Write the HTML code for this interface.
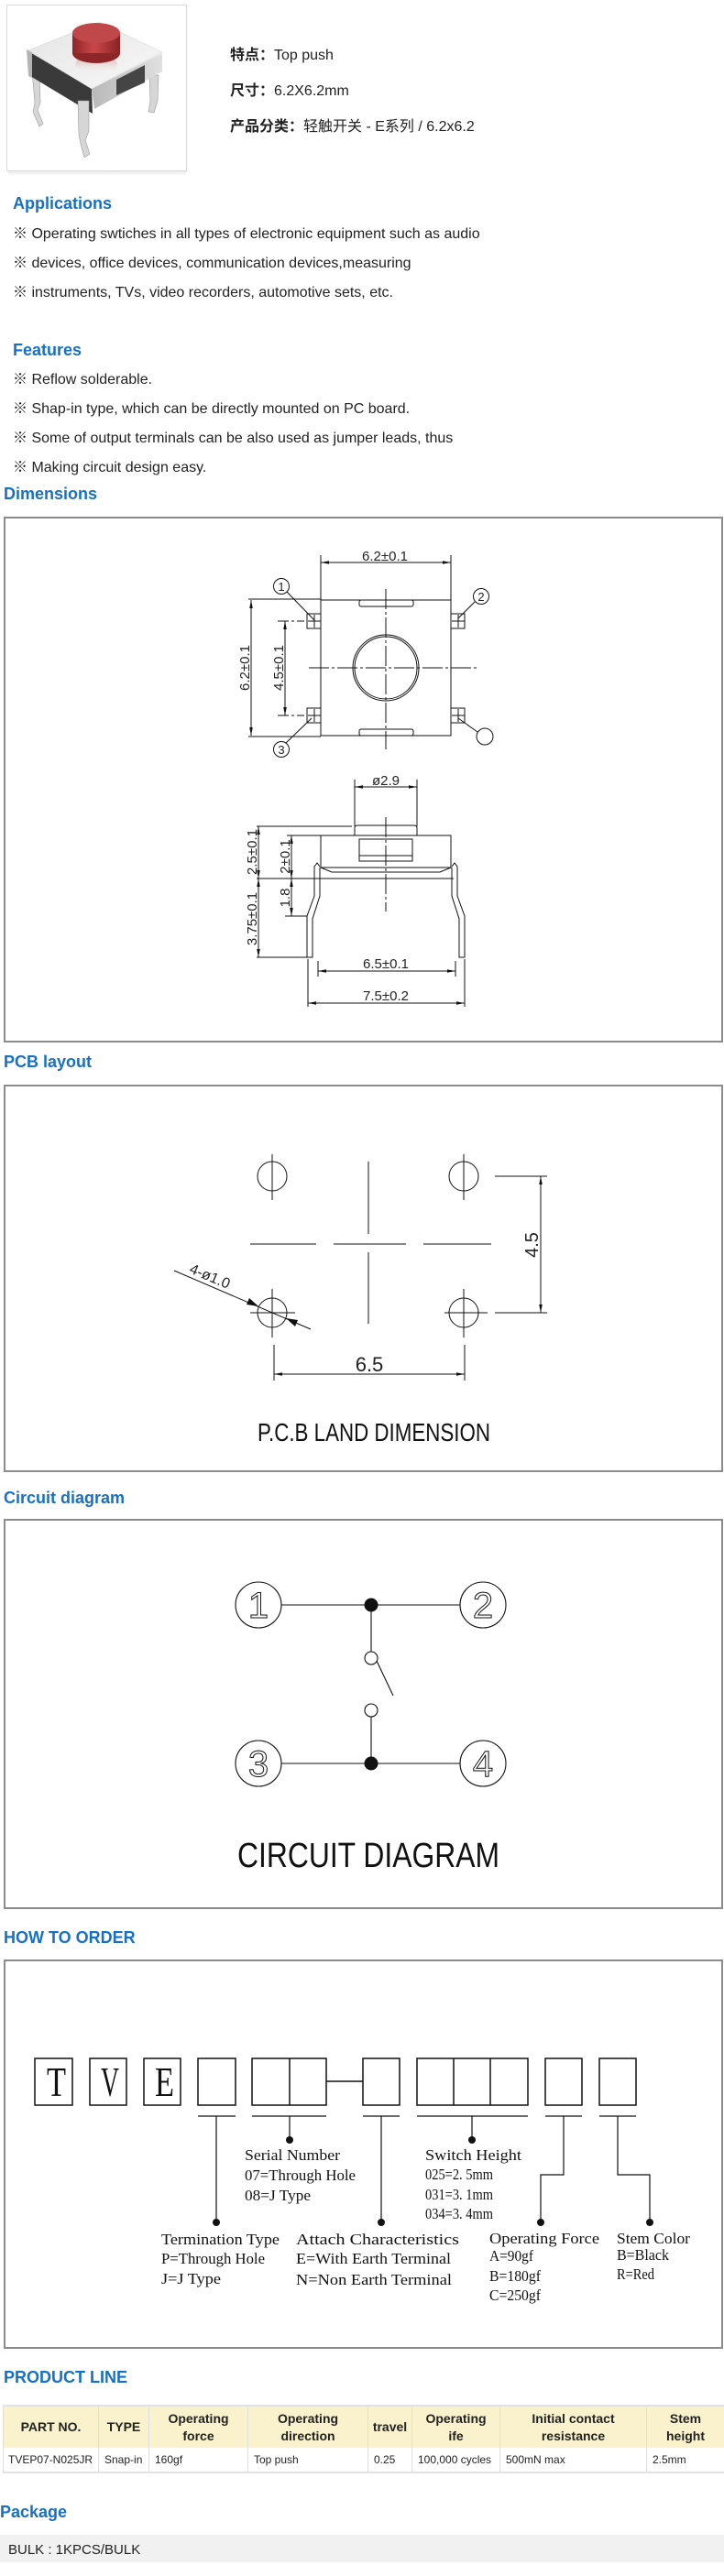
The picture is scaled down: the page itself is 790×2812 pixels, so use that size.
<!DOCTYPE html>
<html><head><meta charset="utf-8">
<style>
html,body{margin:0;padding:0;background:#fff;}
#wrap{position:relative;width:790px;height:2812px;overflow:hidden;font-family:"Liberation Sans","Noto Sans CJK SC",sans-serif;color:#222;}
.h{position:absolute;white-space:nowrap;font-weight:bold;font-size:18px;line-height:22px;color:#1770c5;}
.p{position:absolute;white-space:nowrap;font-size:16px;line-height:20px;left:14px;color:#222;}
.top{position:absolute;white-space:nowrap;font-size:16px;line-height:20px;left:251px;color:#222;}
.top b{font-weight:bold;}
svg.bg{position:absolute;left:0;top:0;}
.cad{font-family:"Liberation Sans",sans-serif;font-size:15px;fill:#222;stroke:none;}
.ord{font-family:"Liberation Serif",serif;font-size:17px;fill:#111;stroke:none;}
table{border-collapse:collapse;table-layout:fixed;width:787px;font-family:"Liberation Sans",sans-serif;}
th{background:#faf2cc;font-size:14px;line-height:19px;font-weight:bold;color:#222;text-align:center;border-left:1px solid #dedede;border-right:1px solid #dedede;height:45px;padding:0;}
td{font-size:12px;color:#222;padding:0 0 0 6px;border-left:1px solid #dedede;border-right:1px solid #dedede;height:26px;white-space:nowrap;}
tr.hd{border-top:2px solid #e2e2e2;}
tr.dt{border-bottom:2px solid #e2e2e2;}
</style></head>
<body><div id="wrap">

<svg class="bg" width="790" height="2812" viewBox="0 0 790 2812" xmlns="http://www.w3.org/2000/svg">
<defs>
<marker id="a" viewBox="0 0 10 4" refX="10" refY="2" markerWidth="9" markerHeight="3.6" markerUnits="userSpaceOnUse" orient="auto-start-reverse"><path d="M0,0 L10,2 L0,4z" fill="#111"/></marker>
<linearGradient id="cap" x1="0" x2="1" y1="0" y2="0"><stop offset="0" stop-color="#8e2426"/><stop offset="0.45" stop-color="#c9484a"/><stop offset="1" stop-color="#8a2224"/></linearGradient>
<linearGradient id="refl" x1="0" x2="0" y1="0" y2="1"><stop offset="0" stop-color="#d99a9a"/><stop offset="1" stop-color="#f2f2f2" stop-opacity="0"/></linearGradient>
<linearGradient id="topf" x1="0" x2="1" y1="0" y2="1"><stop offset="0" stop-color="#e4e4e4"/><stop offset="1" stop-color="#f8f8f8"/></linearGradient>
<linearGradient id="rf" x1="0" x2="1" y1="0" y2="0"><stop offset="0" stop-color="#b9b9b9"/><stop offset="1" stop-color="#e0e0e0"/></linearGradient>
<linearGradient id="sh" x1="0" x2="0" y1="0" y2="1"><stop offset="0" stop-color="#e6e6e6"/><stop offset="1" stop-color="#fff"/></linearGradient>
</defs>

<!-- product photo -->
<rect x="9" y="186" width="194" height="6" fill="url(#sh)"/>
<rect x="7.5" y="5.5" width="196" height="181" fill="#fff" stroke="#dadada"/>
<polygon points="35,78 43,78 44,112 41,120 47,135 43,138 36,122 38,112" fill="#d6d6d6" stroke="#9a9a9a" stroke-width="0.6"/>
<polygon points="163,83 173,82 172,110 168,123 162,122 164,110" fill="#d6d6d6" stroke="#9a9a9a" stroke-width="0.6"/>
<polygon points="31,56 100,97 101,124 33,83" fill="#3a3a3a"/>
<polygon points="29,54 35,57 35,85 31,83" fill="#b4b4b4"/>
<polygon points="100,97 177,58 177,78 103,119" fill="url(#rf)"/>
<polygon points="127,87 158,71 158,90 127,104" fill="#454545"/>
<polygon points="31,55 108,24 177,57 100,97" fill="url(#topf)" stroke="#cfcfcf" stroke-width="0.5"/>
<polygon points="85,110 97,110 97,143 93,153 98,168 92,172 88,157 86,147" fill="#d6d6d6" stroke="#9a9a9a" stroke-width="0.6"/>
<ellipse cx="105" cy="70" rx="23" ry="10" fill="url(#refl)"/>
<ellipse cx="105" cy="58" rx="26" ry="11" fill="#8e2628"/>
<rect x="79" y="36" width="52" height="22" fill="url(#cap)"/>
<ellipse cx="105" cy="36" rx="26" ry="11" fill="#c0474a"/>

<!-- section boxes -->
<g fill="none" stroke="#8c8c8c" stroke-width="2">
<rect x="5" y="565" width="783" height="572"/>
<rect x="5" y="1185" width="783" height="421"/>
<rect x="5" y="1659" width="783" height="424"/>
<rect x="5" y="2140" width="783" height="423"/>
</g>

<!-- DIMENSIONS: top view -->
<g stroke="#111" stroke-width="1" fill="none">
<line x1="350" y1="614" x2="492" y2="614" marker-start="url(#a)" marker-end="url(#a)"/>
<line x1="350" y1="606" x2="350" y2="655"/>
<line x1="492" y1="606" x2="492" y2="655"/>
<rect x="350" y="655" width="142" height="148"/>
<line x1="271" y1="654" x2="350" y2="654"/>
<line x1="271" y1="804" x2="350" y2="804"/>
<rect x="392" y="655" width="59" height="7" rx="2"/>
<rect x="392" y="796" width="59" height="7" rx="2"/>
<circle cx="421" cy="729" r="36"/>
<circle cx="421" cy="729" r="34"/>
<line x1="421" y1="643" x2="421" y2="818" stroke-dasharray="22 3 3 3"/>
<line x1="337" y1="729" x2="523" y2="729" stroke-dasharray="22 3 3 3"/>
<rect x="335" y="670" width="15" height="16"/>
<rect x="335" y="773" width="15" height="16"/>
<rect x="492" y="670" width="15" height="16"/>
<rect x="492" y="773" width="15" height="16"/>
<line x1="336" y1="678" x2="350" y2="678"/><line x1="343" y1="671" x2="343" y2="685"/>
<line x1="336" y1="781" x2="350" y2="781"/><line x1="343" y1="774" x2="343" y2="788"/>
<line x1="493" y1="678" x2="507" y2="678"/><line x1="500" y1="671" x2="500" y2="685"/>
<line x1="493" y1="781" x2="507" y2="781"/><line x1="500" y1="774" x2="500" y2="788"/>
<line x1="303" y1="678" x2="332" y2="678" stroke-dasharray="12 3 3 3"/>
<line x1="303" y1="781" x2="332" y2="781" stroke-dasharray="12 3 3 3"/>
<line x1="311" y1="678" x2="311" y2="781" marker-start="url(#a)" marker-end="url(#a)"/>
<line x1="274" y1="655" x2="274" y2="803" marker-start="url(#a)" marker-end="url(#a)"/>
<circle cx="307" cy="640" r="8.5"/><line x1="313" y1="646" x2="343" y2="677"/>
<circle cx="525" cy="651" r="8.5"/><line x1="518" y1="657" x2="500" y2="675"/>
<circle cx="307" cy="818" r="8.5"/><line x1="312" y1="811" x2="340" y2="784"/>
<circle cx="529" cy="804" r="9"/><line x1="521" y1="799" x2="500" y2="784"/>
</g>
<text class="cad" x="420" y="612" text-anchor="middle">6.2±0.1</text>
<text class="cad" transform="translate(272,729) rotate(-90)" text-anchor="middle">6.2±0.1</text>
<text class="cad" transform="translate(309,729) rotate(-90)" text-anchor="middle">4.5±0.1</text>
<text class="cad" x="307" y="645" text-anchor="middle" style="font-size:13px">1</text>
<text class="cad" x="525" y="656" text-anchor="middle" style="font-size:13px">2</text>
<text class="cad" x="307" y="823" text-anchor="middle" style="font-size:13px">3</text>

<!-- DIMENSIONS: side view -->
<g stroke="#111" stroke-width="1" fill="none">
<line x1="387" y1="859" x2="455" y2="859" marker-start="url(#a)" marker-end="url(#a)"/>
<line x1="387" y1="851" x2="387" y2="902"/>
<line x1="455" y1="851" x2="455" y2="902"/>
<path d="M387,912 L387,904 Q387,901 390,901 L452,901 Q455,901 455,904 L455,912"/>
<rect x="350" y="912" width="142" height="35"/>
<polyline points="350,947 362,952 480,952 492,947"/>
<rect x="392" y="916" width="58" height="24"/>
<line x1="392" y1="934" x2="450" y2="934"/>
<polyline points="349,947 349,978 341,1003 341,1045 335,1045 335,1000 343,978 343,946 346,942 349,946"/>
<polyline points="493,947 493,978 501,1003 501,1045 507,1045 507,1000 499,978 499,946 496,942 493,946"/>
<line x1="280" y1="902" x2="384" y2="902"/>
<line x1="280" y1="959" x2="495" y2="959"/>
<line x1="280" y1="1045" x2="335" y2="1045"/>
<line x1="313" y1="912" x2="350" y2="912"/>
<line x1="311" y1="1000" x2="335" y2="1000"/>
<line x1="282" y1="902" x2="282" y2="959" marker-start="url(#a)" marker-end="url(#a)"/>
<line x1="282" y1="959" x2="282" y2="1045" marker-start="url(#a)" marker-end="url(#a)"/>
<line x1="318" y1="912" x2="318" y2="959" marker-start="url(#a)" marker-end="url(#a)"/>
<line x1="318" y1="959" x2="318" y2="1000" marker-start="url(#a)" marker-end="url(#a)"/>
<line x1="347" y1="1049" x2="347" y2="1066"/>
<line x1="497" y1="1049" x2="497" y2="1066"/>
<line x1="347" y1="1060" x2="497" y2="1060" marker-start="url(#a)" marker-end="url(#a)"/>
<line x1="336" y1="1047" x2="336" y2="1099"/>
<line x1="507" y1="1047" x2="507" y2="1099"/>
<line x1="336" y1="1095" x2="507" y2="1095" marker-start="url(#a)" marker-end="url(#a)"/>
<line x1="421" y1="892" x2="421" y2="995" stroke-dasharray="22 3 3 3"/>
</g>
<text class="cad" x="421" y="857" text-anchor="middle">ø2.9</text>
<text class="cad" transform="translate(280,930) rotate(-90)" text-anchor="middle">2.5±0.1</text>
<text class="cad" transform="translate(280,1003) rotate(-90)" text-anchor="middle">3.75±0.1</text>
<text class="cad" transform="translate(316,935) rotate(-90)" text-anchor="middle">2±0.1</text>
<text class="cad" transform="translate(316,980) rotate(-90)" text-anchor="middle">1.8</text>
<text class="cad" x="421" y="1057" text-anchor="middle">6.5±0.1</text>
<text class="cad" x="421" y="1092" text-anchor="middle">7.5±0.2</text>

<!-- PCB layout -->
<g stroke="#111" stroke-width="1" fill="none">
<circle cx="297" cy="1284" r="16"/><circle cx="506" cy="1284" r="16"/>
<circle cx="297" cy="1433" r="16"/><circle cx="506" cy="1433" r="16"/>
<line x1="297" y1="1260" x2="297" y2="1310"/><line x1="506" y1="1260" x2="506" y2="1310"/>
<line x1="297" y1="1407" x2="297" y2="1460"/><line x1="506" y1="1407" x2="506" y2="1460"/>
<line x1="273" y1="1433" x2="322" y2="1433"/><line x1="485" y1="1433" x2="532" y2="1433"/>
<line x1="402" y1="1268" x2="402" y2="1347"/><line x1="402" y1="1367" x2="402" y2="1445"/>
<line x1="273" y1="1358" x2="345" y2="1358"/><line x1="364" y1="1358" x2="443" y2="1358"/><line x1="462" y1="1358" x2="536" y2="1358"/>
<line x1="540" y1="1284" x2="597" y2="1284"/><line x1="540" y1="1433" x2="597" y2="1433"/>
<line x1="590" y1="1284" x2="590" y2="1433" marker-start="url(#a)" marker-end="url(#a)"/>
<line x1="299" y1="1468" x2="299" y2="1507"/><line x1="507" y1="1468" x2="507" y2="1507"/>
<line x1="299" y1="1500" x2="507" y2="1500" marker-start="url(#a)" marker-end="url(#a)"/>
<line x1="190" y1="1387" x2="339" y2="1451"/>
</g>
<polygon points="282,1426 269,1424 272,1417" fill="#111"/>
<polygon points="312,1439 325,1441 322,1448" fill="#111"/>
<text class="cad" transform="translate(587,1359) rotate(-90)" text-anchor="middle" style="font-size:20px">4.5</text>
<text class="cad" x="403" y="1497" text-anchor="middle" style="font-size:22px">6.5</text>
<text class="cad" transform="translate(227,1398) rotate(23)" text-anchor="middle" style="font-size:16px">4-ø1.0</text>
<text class="cad" x="281" y="1573" textLength="254" lengthAdjust="spacingAndGlyphs" style="font-size:28px;fill:#111">P.C.B LAND DIMENSION</text>

<!-- Circuit diagram -->
<g stroke="#111" stroke-width="1.1" fill="none">
<circle cx="282" cy="1752" r="25"/><circle cx="527" cy="1752" r="25"/>
<circle cx="282" cy="1925" r="25"/><circle cx="527" cy="1925" r="25"/>
<line x1="307" y1="1752" x2="502" y2="1752"/>
<line x1="307" y1="1925" x2="502" y2="1925"/>
<line x1="405" y1="1752" x2="405" y2="1803"/>
<circle cx="405" cy="1810" r="7"/>
<line x1="411" y1="1813" x2="429" y2="1851"/>
<circle cx="405" cy="1867" r="7"/>
<line x1="405" y1="1874" x2="405" y2="1925"/>
</g>
<circle cx="405" cy="1752" r="7.5" fill="#111"/>
<circle cx="405" cy="1925" r="7.5" fill="#111"/>
<g style="font-family:'Liberation Sans',sans-serif;font-size:40px" fill="none" stroke="#111" stroke-width="1" text-anchor="middle">
<text x="282" y="1766">1</text><text x="527" y="1766">2</text>
<text x="282" y="1939">3</text><text x="527" y="1939">4</text>
</g>
<text class="cad" x="259" y="2038" textLength="286" lengthAdjust="spacingAndGlyphs" style="font-size:38px;fill:#111">CIRCUIT DIAGRAM</text>

<!-- How to order -->
<g stroke="#111" stroke-width="1.5" fill="none">
<rect x="38" y="2247" width="41" height="51"/>
<rect x="98" y="2247" width="40" height="51"/>
<rect x="157" y="2247" width="40" height="51"/>
<rect x="216" y="2247" width="41" height="51"/>
<rect x="275" y="2247" width="81" height="51"/><line x1="316" y1="2247" x2="316" y2="2298"/>
<line x1="356" y1="2272" x2="396" y2="2272"/>
<rect x="396" y="2247" width="40" height="51"/>
<rect x="455" y="2247" width="121" height="51"/><line x1="495" y1="2247" x2="495" y2="2298"/><line x1="535" y1="2247" x2="535" y2="2298"/>
<rect x="595" y="2247" width="40" height="51"/>
<rect x="654" y="2247" width="40" height="51"/>
</g>
<g stroke="#111" stroke-width="1.2" fill="none">
<line x1="216" y1="2310" x2="257" y2="2310"/>
<line x1="275" y1="2310" x2="356" y2="2310"/>
<line x1="396" y1="2310" x2="436" y2="2310"/>
<line x1="455" y1="2310" x2="576" y2="2310"/>
<line x1="595" y1="2310" x2="635" y2="2310"/>
<line x1="654" y1="2310" x2="694" y2="2310"/>
<line x1="236" y1="2310" x2="236" y2="2426"/>
<line x1="316" y1="2310" x2="316" y2="2336"/>
<line x1="416" y1="2310" x2="416" y2="2426"/>
<line x1="515" y1="2310" x2="515" y2="2336"/>
<polyline points="615,2310 615,2374 590,2374 590,2426"/>
<polyline points="674,2310 674,2374 709,2374 709,2426"/>
</g>
<g fill="#111">
<circle cx="236" cy="2426" r="4"/><circle cx="316" cy="2336" r="4"/>
<circle cx="416" cy="2426" r="4"/><circle cx="515" cy="2336" r="4"/>
<circle cx="590" cy="2426" r="4"/><circle cx="709" cy="2426" r="4"/>
</g>
<g style="font-family:'Liberation Serif',serif;font-size:46px" fill="#111">
<text x="51" y="2288" textLength="21" lengthAdjust="spacingAndGlyphs">T</text>
<text x="110" y="2288" textLength="20" lengthAdjust="spacingAndGlyphs">V</text>
<text x="169" y="2288" textLength="21" lengthAdjust="spacingAndGlyphs">E</text>
</g>
<text class="ord" x="267" y="2358" textLength="104" lengthAdjust="spacingAndGlyphs">Serial Number</text>
<text class="ord" x="267" y="2380" textLength="121" lengthAdjust="spacingAndGlyphs">07=Through Hole</text>
<text class="ord" x="267" y="2402" textLength="72" lengthAdjust="spacingAndGlyphs">08=J Type</text>
<text class="ord" x="464" y="2358" textLength="105" lengthAdjust="spacingAndGlyphs">Switch Height</text>
<text class="ord" x="464" y="2379" textLength="74" lengthAdjust="spacingAndGlyphs">025=2. 5mm</text>
<text class="ord" x="464" y="2401" textLength="74" lengthAdjust="spacingAndGlyphs">031=3. 1mm</text>
<text class="ord" x="464" y="2422" textLength="74" lengthAdjust="spacingAndGlyphs">034=3. 4mm</text>
<text class="ord" x="176" y="2450" textLength="129" lengthAdjust="spacingAndGlyphs">Termination Type</text>
<text class="ord" x="176" y="2471" textLength="113" lengthAdjust="spacingAndGlyphs">P=Through Hole</text>
<text class="ord" x="176" y="2493" textLength="65" lengthAdjust="spacingAndGlyphs">J=J Type</text>
<text class="ord" x="323" y="2450" textLength="178" lengthAdjust="spacingAndGlyphs">Attach Characteristics</text>
<text class="ord" x="323" y="2471" textLength="169" lengthAdjust="spacingAndGlyphs">E=With Earth Terminal</text>
<text class="ord" x="323" y="2494" textLength="170" lengthAdjust="spacingAndGlyphs">N=Non Earth Terminal</text>
<text class="ord" x="534" y="2449" textLength="120" lengthAdjust="spacingAndGlyphs">Operating Force</text>
<text class="ord" x="534" y="2468" textLength="48" lengthAdjust="spacingAndGlyphs">A=90gf</text>
<text class="ord" x="534" y="2490" textLength="56" lengthAdjust="spacingAndGlyphs">B=180gf</text>
<text class="ord" x="534" y="2511" textLength="56" lengthAdjust="spacingAndGlyphs">C=250gf</text>
<text class="ord" x="673" y="2449" textLength="80" lengthAdjust="spacingAndGlyphs">Stem Color</text>
<text class="ord" x="673" y="2467" textLength="57" lengthAdjust="spacingAndGlyphs">B=Black</text>
<text class="ord" x="673" y="2488" textLength="41" lengthAdjust="spacingAndGlyphs">R=Red</text>

<!-- package bar -->
<rect x="0" y="2767" width="790" height="30" fill="#f1f1f1"/>
</svg>

<div class="top" style="top:51px"><b>特点：</b>Top push</div>
<div class="top" style="top:90px"><b>尺寸：</b>6.2X6.2mm</div>
<div class="top" style="top:129px"><b>产品分类：</b>轻触开关 - E系列 / 6.2x6.2</div>

<div class="h" style="left:14px;top:211px">Applications</div>
<div class="p" style="top:246px">※ Operating swtiches in all types of electronic equipment such as audio</div>
<div class="p" style="top:278px">※ devices, office devices, communication devices,measuring</div>
<div class="p" style="top:310px">※ instruments, TVs, video recorders, automotive sets, etc.</div>

<div class="h" style="left:14px;top:371px">Features</div>
<div class="p" style="top:405px">※ Reflow solderable.</div>
<div class="p" style="top:437px">※ Shap-in type, which can be directly mounted on PC board.</div>
<div class="p" style="top:469px">※ Some of output terminals can be also used as jumper leads, thus</div>
<div class="p" style="top:501px">※ Making circuit design easy.</div>

<div class="h" style="left:4px;top:528px">Dimensions</div>
<div class="h" style="left:4px;top:1148px">PCB layout</div>
<div class="h" style="left:4px;top:1624px">Circuit diagram</div>
<div class="h" style="left:4px;top:2104px">HOW TO ORDER</div>
<div class="h" style="left:4px;top:2584px">PRODUCT LINE</div>

<div style="position:absolute;left:3px;top:2625px;width:787px;">
<table>
<colgroup><col style="width:104px"><col style="width:55px"><col style="width:108px"><col style="width:131px"><col style="width:48px"><col style="width:96px"><col style="width:160px"><col style="width:85px"></colgroup>
<tr class="hd"><th>PART NO.</th><th>TYPE</th><th>Operating<br>force</th><th>Operating<br>direction</th><th>travel</th><th>Operating<br>ife</th><th>Initial contact<br>resistance</th><th>Stem<br>height</th></tr>
<tr class="dt"><td style="padding-left:5px">TVEP07-N025JR</td><td>Snap-in</td><td>160gf</td><td>Top push</td><td>0.25</td><td>100,000 cycles</td><td>500mN max</td><td>2.5mm</td></tr>
</table>
</div>

<div class="h" style="left:0px;top:2731px">Package</div>
<div style="position:absolute;left:9px;top:2774px;font-size:15px;line-height:20px;white-space:nowrap;color:#222;">BULK : 1KPCS/BULK</div>

</div></body></html>
